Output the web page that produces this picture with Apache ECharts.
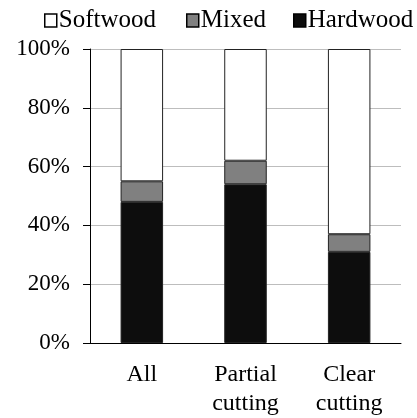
<!DOCTYPE html>
<html>
<head>
<meta charset="utf-8">
<script src="https://cdn.jsdelivr.net/npm/echarts@6/dist/echarts.min.js"></script>
<style>
  html, body { margin: 0; padding: 0; background: #fff; }
  #chart { width: 417px; height: 418px; }
</style>
</head>
<body>
<div id="chart"></div>
<script>
// categories and shares (%)
const categories = ['All', 'Partial\ncutting', 'Clear\ncutting']
const hardwood = [48, 54, 31]
const mixed = [7, 8, 6]
const softwood = [45, 38, 63]
const yTicks = [0, 20, 40, 60, 80, 100]

const font = '"Liberation Serif", "Times New Roman", serif'
const chart = echarts.init(document.getElementById('chart'))

function barSeries(name, data, color) {
  return {
    name: name,
    type: 'bar',
    stack: 'total',
    barWidth: '41%',
    data: data,
    itemStyle: { color: color, borderColor: '#222', borderWidth: 1 }
  }
}

// one legend per item so each sits where it does in the figure
function legendItem(name, left) {
  return {
    data: [name],
    top: 8,
    left: left,
    padding: 0,
    itemWidth: 12,
    itemHeight: 13,
    icon: 'rect',
    itemStyle: { borderColor: '#000', borderWidth: 1.5 },
    textStyle: { fontFamily: font, fontSize: 25, color: '#000', padding: [0, 0, 0, -3] }
  }
}

chart.setOption({
  animation: false,
  textStyle: { fontFamily: font, color: '#000' },
  legend: [
    legendItem('Softwood', 44),
    legendItem('Mixed', 186),
    legendItem('Hardwood', 293)
  ],
  grid: { left: 90, right: 16, top: 49, bottom: 71 },
  xAxis: {
    type: 'category',
    data: categories,
    axisLine: { lineStyle: { color: '#000', width: 1 } },
    axisTick: { length: 7, lineStyle: { color: '#000' } },
    axisLabel: { fontFamily: font, fontSize: 24, color: '#000', margin: 17, lineHeight: 29 }
  },
  yAxis: {
    type: 'value',
    min: yTicks[0],
    max: yTicks[yTicks.length - 1],
    interval: 20,
    axisLine: { show: true, lineStyle: { color: '#000', width: 1 } },
    axisTick: { show: true, length: 7, lineStyle: { color: '#000' } },
    axisLabel: { formatter: '{value}%', fontFamily: font, fontSize: 23, color: '#000', margin: 20 },
    splitLine: { lineStyle: { color: '#bdbdbd', width: 1 } }
  },
  series: [
    barSeries('Hardwood', hardwood, '#0d0d0d'),
    barSeries('Mixed', mixed, '#808080'),
    barSeries('Softwood', softwood, '#ffffff')
  ]
})
</script>
</body>
</html>
